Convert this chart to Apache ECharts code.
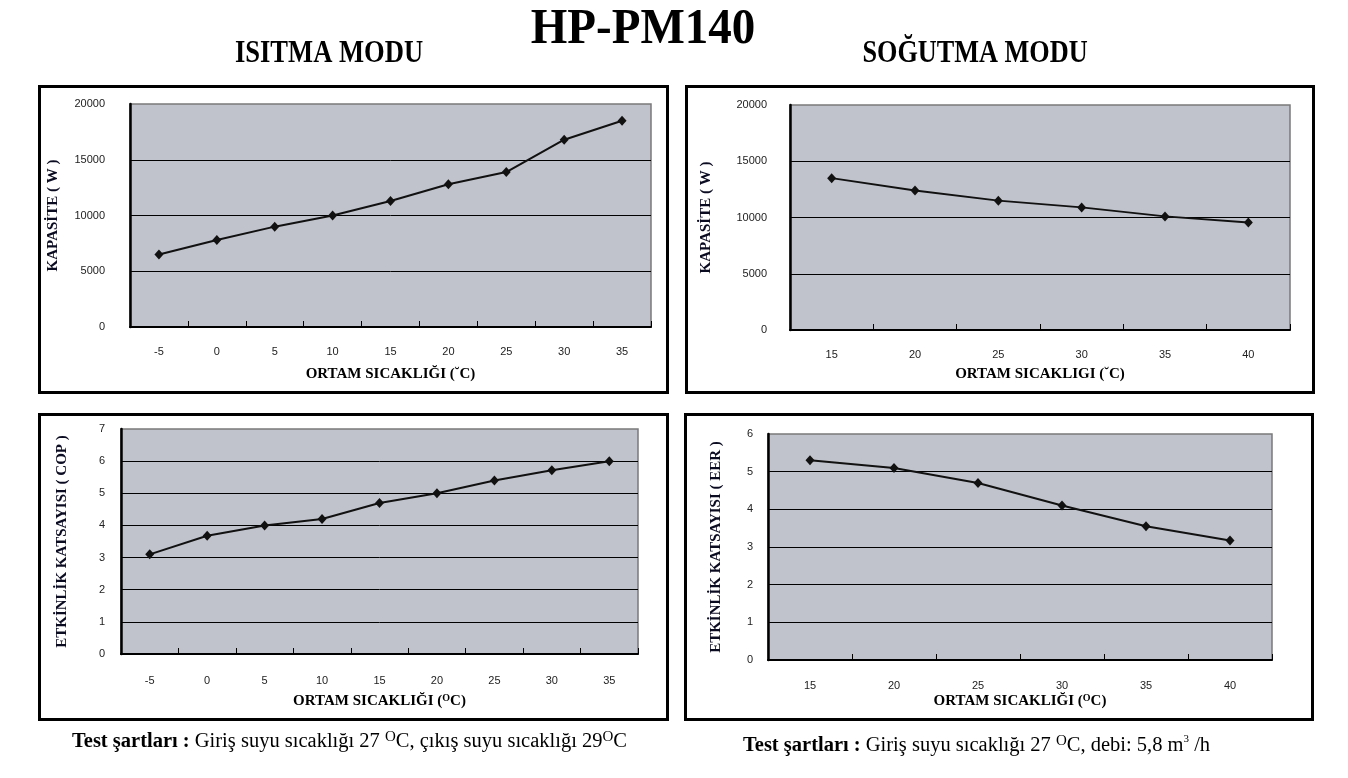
<!DOCTYPE html>
<html>
<head>
<meta charset="utf-8">
<script src="https://cdn.jsdelivr.net/npm/echarts@6/dist/echarts.min.js"></script>
<style>
html,body{margin:0;padding:0;background:#fff;}
#c{width:1348px;height:778px;}
</style>
</head>
<body>
<div id="c"></div>
<script>
// ---- data ----
const heatTemps = ['-5', '0', '5', '10', '15', '20', '25', '30', '35'];
const heatCapacity = [6500, 7800, 9000, 10000, 11300, 12800, 13900, 16800, 18500];
const heatCOP = [3.1, 3.68, 4.0, 4.2, 4.7, 5.0, 5.4, 5.72, 6.0];
const coolTemps = ['15', '20', '25', '30', '35', '40'];
const coolCapacity = [13500, 12400, 11500, 10900, 10100, 9550];
const coolEER = [5.3, 5.1, 4.7, 4.1, 3.55, 3.17];
const capacityAxis = { min: 0, max: 20000, interval: 5000 };
const copAxis = { min: 0, max: 7, interval: 1 };
const eerAxis = { min: 0, max: 6, interval: 1 };

const mainTitle = 'HP-PM140';
const heatTitle = 'ISITMA MODU';
const coolTitle = 'SOĞUTMA MODU';
const capName = 'KAPASİTE ( W )';
const copName = 'ETKİNLİK KATSAYISI ( COP )';
const eerName = 'ETKİNLİK KATSAYISI ( EER )';

// ---- styles ----
const SERIF = 'Liberation Serif';
const SANS = 'Liberation Sans';
const panels = [
  { grid: { left: 130, top: 104, width: 521, height: 223 }, cats: heatTemps, vals: heatCapacity, yr: capacityAxis, yName: capName, yGap: 69, lblMargin: 25, xName: ['ORTAM SICAKLIĞI (', '˘', 'C)'], xGap: 39, xMargin: 19 },
  { grid: { left: 790, top: 105, width: 500, height: 225 }, cats: coolTemps, vals: coolCapacity, yr: capacityAxis, yName: capName, yGap: 76, lblMargin: 23, xName: ['ORTAM SICAKLIGI (', '˘', 'C)'], xGap: 36, xMargin: 19 },
  { grid: { left: 121, top: 429, width: 517, height: 225 }, cats: heatTemps, vals: heatCOP, yr: copAxis, yName: copName, yGap: 51, lblMargin: 16, xName: ['ORTAM SICAKLIĞI (', 'O', 'C)'], xGap: 39, xMargin: 21 },
  { grid: { left: 768, top: 434, width: 504, height: 226 }, cats: coolTemps, vals: coolEER, yr: eerAxis, yName: eerName, yGap: 44, lblMargin: 15, xName: ['ORTAM SICAKLIĞI (', 'O', 'C)'], xGap: 33, xMargin: 20 }
];

const grids = [], xAxes = [], yAxes = [], series = [];
panels.forEach((p, i) => {
  grids.push(Object.assign({ show: true, backgroundColor: '#c0c3cb', borderColor: '#7a7a7a', borderWidth: 1.5 }, p.grid));
  xAxes.push({
    type: 'category', gridIndex: i, data: p.cats, boundaryGap: true,
    axisLine: { show: true, lineStyle: { color: '#000', width: 2 } },
    axisTick: { show: true, inside: true, length: 6, lineStyle: { color: '#000', width: 1 } },
    axisLabel: { margin: p.xMargin, fontFamily: SANS, fontSize: 11, color: '#222' },
    splitLine: { show: false },
    name: '{t|' + p.xName[0] + '}{s|' + p.xName[1] + '}{t|' + p.xName[2] + '}',
    nameLocation: 'middle', nameGap: p.xGap,
    nameTextStyle: {
      rich: {
        t: { fontFamily: SERIF, fontWeight: 'bold', fontSize: 15, color: '#000', lineHeight: 16 },
        s: { fontFamily: SERIF, fontWeight: 'bold', fontSize: p.xName[1] === 'O' ? 10 : 14, color: '#000', verticalAlign: 'top', lineHeight: 10 }
      }
    }
  });
  yAxes.push({
    type: 'value', gridIndex: i, min: p.yr.min, max: p.yr.max, interval: p.yr.interval,
    axisLine: { show: true, lineStyle: { color: '#000', width: 2.5 } },
    axisTick: { show: false },
    axisLabel: { margin: p.lblMargin, fontFamily: SANS, fontSize: 11, color: '#222', formatter: v => String(v) },
    splitLine: { show: true, showMinLine: false, showMaxLine: false, lineStyle: { color: '#000', width: 1 } },
    name: p.yName, nameLocation: 'middle', nameGap: p.yGap, nameRotate: 90,
    nameTextStyle: { fontFamily: SERIF, fontWeight: 'bold', fontSize: 15, color: '#0b0b22' }
  });
  series.push({
    type: 'line', xAxisIndex: i, yAxisIndex: i, data: p.vals,
    symbol: 'diamond', symbolSize: [9, 10],
    lineStyle: { color: '#111', width: 2 },
    itemStyle: { color: '#111' },
    silent: true, animation: false
  });
});

const boxes = [
  { x: 39.5, y: 86.5, w: 628, h: 306 },
  { x: 686.5, y: 86.5, w: 627, h: 306 },
  { x: 39.5, y: 414.5, w: 628, h: 305 },
  { x: 685.5, y: 414.5, w: 627, h: 305 }
];

const graphic = boxes.map(b => ({
  type: 'rect', shape: { x: b.x, y: b.y, width: b.w, height: b.h },
  style: { fill: 'none', stroke: '#000', lineWidth: 3 }, z: 10, silent: true
}));

const footRich = {
  b: { fontFamily: SERIF, fontWeight: 'bold', fontSize: 20.5, fill: '#000', lineHeight: 24 },
  r: { fontFamily: SERIF, fontSize: 20.5, fill: '#000', lineHeight: 24 },
  s: { fontFamily: SERIF, fontSize: 15, fill: '#000', lineHeight: 12, verticalAlign: 'top' },
  c: { fontFamily: SERIF, fontSize: 11, fill: '#000', lineHeight: 9, verticalAlign: 'top' }
};

graphic.push(
  { type: 'text', x: 643, y: 30, scaleX: 0.94, style: { text: mainTitle, font: 'bold 50px "' + SERIF + '"', fill: '#000', align: 'center', verticalAlign: 'middle' } },
  { type: 'text', x: 329, y: 54, scaleX: 0.83, style: { text: heatTitle, font: 'bold 32px "' + SERIF + '"', fill: '#000', align: 'center', verticalAlign: 'middle' } },
  { type: 'text', x: 975, y: 54, scaleX: 0.82, style: { text: coolTitle, font: 'bold 32px "' + SERIF + '"', fill: '#000', align: 'center', verticalAlign: 'middle' } },
  {
    type: 'text', x: 72, y: 742,
    style: {
      text: '{b|Test şartları : }{r|Giriş suyu sıcaklığı 27 }{s|O}{r|C, çıkış suyu sıcaklığı 29}{s|O}{r|C}',
      align: 'left', verticalAlign: 'middle', rich: footRich
    }
  },
  {
    type: 'text', x: 743, y: 746,
    style: {
      text: '{b|Test şartları : }{r|Giriş suyu sıcaklığı 27 }{s|O}{r|C, debi: 5,8 m}{c|3}{r| /h}',
      align: 'left', verticalAlign: 'middle', rich: footRich
    }
  }
);

const chart = echarts.init(document.getElementById('c'), null, { renderer: 'canvas' });
chart.setOption({
  animation: false,
  backgroundColor: '#fff',
  grid: grids, xAxis: xAxes, yAxis: yAxes, series: series,
  graphic: graphic
});
</script>
</body>
</html>
